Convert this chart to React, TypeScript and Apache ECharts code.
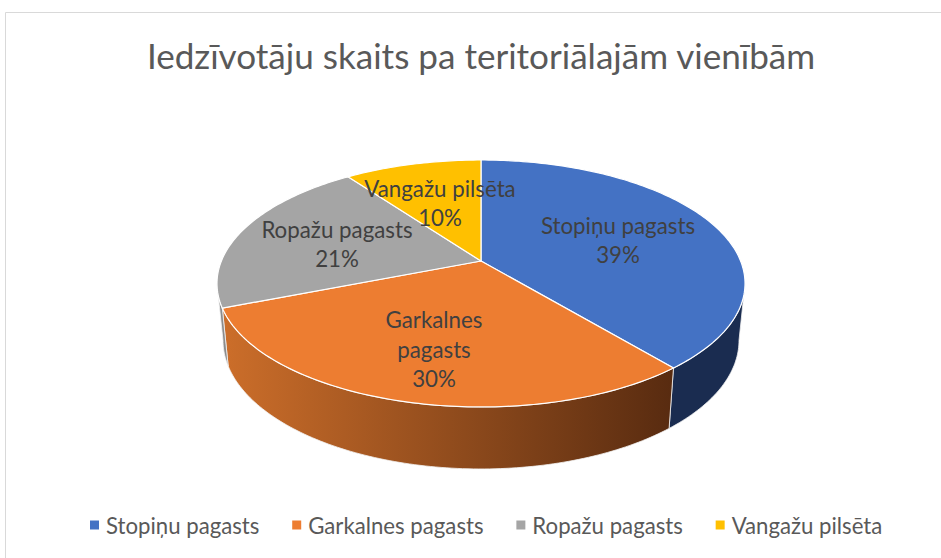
import React, { useEffect, useRef } from "react";
import * as echarts from "echarts";

const titleText = "Iedzīvotāju skaits pa teritoriālajām vienībām";
const categories = ["Stopiņu pagasts", "Garkalnes pagasts", "Ropažu pagasts", "Vangažu pilsēta"];
const labelNames = ["Stopiņu pagasts", "Garkalnes\npagasts", "Ropažu pagasts", "Vangažu pilsēta"];
const values = [39, 30, 21, 10];
const colors = ["#4472C4", "#ED7D31", "#A5A5A5", "#FFC000"];
const labelAnchors = [[618, 240], [434, 349], [337, 244], [440, 203]];

const FONT = "Lato, 'Open Sans', sans-serif";
const top = { a: 259.6, b: 119.4, k: 0.182, cx: 481, cy: 261 };
const bottom = { a: 253.7, b: 124.3, k: 0.182, cx: 481, cy: 317 };
const VIS_FROM = 100.5;
const VIS_TO = 259.5;

function project(p: typeof top, deg: number) {
  const t = (deg * Math.PI) / 180;
  const u = Math.sin(t);
  const v = -Math.cos(t);
  const d = 1 - p.k * v;
  return [p.cx + (p.a * u) / d, p.cy + (p.b * v) / d];
}

function rim(p: typeof top, from: number, to: number) {
  const pts: number[][] = [];
  const n = Math.max(2, Math.ceil(Math.abs(to - from)));
  for (let i = 0; i <= n; i++) pts.push(project(p, from + ((to - from) * i) / n));
  return pts;
}

const sideFills: any[] = [
  "#1A2C50",
  new echarts.graphic.LinearGradient(0, 0, 1, 0, [
    { offset: 0, color: "#CC6E2A" },
    { offset: 1, color: "#582B10" },
  ]),
  "#8C8C8C",
  "#8C6A00",
];

export default function App() {
  const ref = useRef<HTMLDivElement>(null);
  useEffect(() => {
    const chart = echarts.init(ref.current!, undefined, { renderer: "svg" });
    const total = values.reduce((s, v) => s + v, 0);
    let acc = 0;
    const spans = values.map((v) => {
      const s = (acc / total) * 360;
      acc += v;
      return [s, (acc / total) * 360];
    });
    const series = categories.map((name, i) => ({
      type: "custom",
      name,
      coordinateSystem: "none",
      itemStyle: { color: colors[i] },
      data: [[values[i]]],
      silent: true,
      renderItem: () => {
        const [a0, a1] = spans[i];
        const children: any[] = [];
        const sf = Math.max(a0, VIS_FROM);
        const st = Math.min(a1, VIS_TO);
        if (st > sf) {
          children.push({
            type: "polygon",
            z2: 1,
            shape: { points: [...rim(top, sf, st), ...rim(bottom, st, sf)] },
            style: { fill: sideFills[i], stroke: "#F2F2F2", lineWidth: 0.8 },
          });
        }
        children.push({
          type: "polygon",
          z2: 2,
          shape: { points: [[top.cx, top.cy], ...rim(top, a0, a1)] },
          style: { fill: colors[i], stroke: "#FFFFFF", lineWidth: 1.2 },
        });
        children.push({
          type: "text",
          z2: 3,
          x: labelAnchors[i][0],
          y: labelAnchors[i][1],
          style: {
            text: `${labelNames[i]}\n${values[i]}%`,
            fill: "#404040",
            font: `22.3px ${FONT}`,
            lineHeight: 29.5,
            align: "center",
            verticalAlign: "middle",
          },
        });
        return { type: "group", children };
      },
    }));
    chart.setOption({
      animation: false,
      backgroundColor: "#FFFFFF",
      title: {
        text: titleText,
        left: 476,
        top: 32,
        textAlign: "center",
        textStyle: { color: "#595959", fontSize: 35.1, fontWeight: "normal", fontFamily: FONT },
      },
      legend: {
        left: 85,
        top: 509,
        icon: "rect",
        itemWidth: 9,
        itemHeight: 9,
        itemGap: 32.8,
        selectedMode: false,
        data: categories,
        textStyle: { color: "#595959", fontSize: 22.2, fontFamily: FONT, padding: [0, 0, 0, 2] },
      },
      graphic: [
        {
          type: "rect",
          silent: true,
          z: -1,
          shape: { x: 5.5, y: 12.5, width: 1000, height: 700 },
          style: { fill: "none", stroke: "#D9D9D9", lineWidth: 1 },
        },
      ],
      series,
    });
    return () => chart.dispose();
  }, []);
  return <div ref={ref} style={{ position: "fixed", left: 0, top: 0, width: 941, height: 558 }} />;
}
